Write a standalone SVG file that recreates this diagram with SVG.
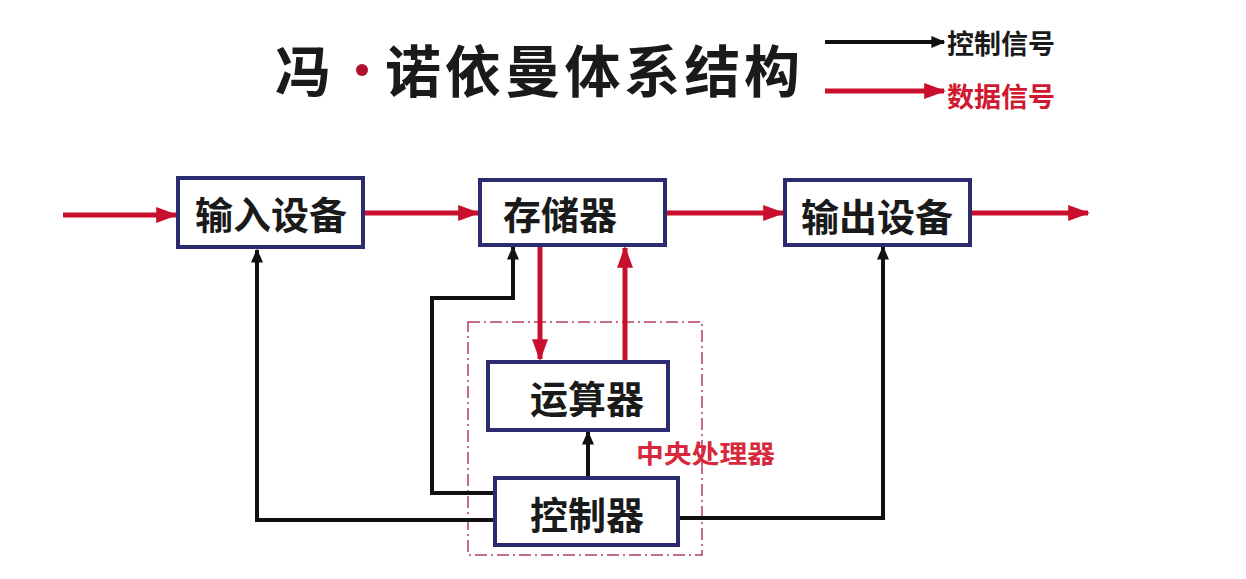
<svg xmlns="http://www.w3.org/2000/svg" width="1246" height="579" viewBox="0 0 1246 579">
<style>
.box{fill:#fff;stroke:#2b2b70;stroke-width:4}
.lbl{font-family:"Noto Sans CJK SC","Noto Sans",sans-serif;font-weight:bold;font-size:38px;fill:#1a1a1a;text-anchor:middle;dominant-baseline:central}
.red{stroke:#c8102e;stroke-width:5;fill:none}
.blk{stroke:#111;stroke-width:4;fill:none}
</style>
<defs>
<marker id="ar" viewBox="0 0 10 10" refX="9" refY="5" markerWidth="4.4" markerHeight="3.2" markerUnits="strokeWidth" orient="auto" preserveAspectRatio="none"><path d="M0,0 L10,5 L0,10 z" fill="#c8102e"/></marker>
<marker id="ab" viewBox="0 0 10 10" refX="9" refY="5" markerWidth="3.5" markerHeight="3" markerUnits="strokeWidth" orient="auto" preserveAspectRatio="none"><path d="M0,0 L10,5 L0,10 z" fill="#111"/></marker>
</defs>
<rect width="1246" height="579" fill="#fff"/>
<g id="title">
<text x="275" y="92" font-family="'Noto Sans CJK SC',sans-serif" font-weight="bold" font-size="56" fill="#1a1a1a">冯</text>
<circle cx="362" cy="70" r="6" fill="#b0102a"/>
<text x="385" y="92" font-family="'Noto Sans CJK SC',sans-serif" font-weight="bold" font-size="56" fill="#1a1a1a" textLength="415" lengthAdjust="spacing">诺依曼体系结构</text>
</g>
<g id="legend">
<line class="blk" x1="825" y1="42" x2="944" y2="42" stroke-width="7" marker-end="url(#ab)"/>
<text x="947" y="42" font-family="'Noto Sans CJK SC',sans-serif" font-weight="bold" font-size="27" fill="#1a1a1a" dominant-baseline="central">控制信号</text>
<line class="red" x1="825" y1="91" x2="944" y2="91" stroke-width="6" marker-end="url(#ar)"/>
<text x="947" y="95" font-family="'Noto Sans CJK SC',sans-serif" font-weight="bold" font-size="27" fill="#d01830" dominant-baseline="central">数据信号</text>
</g>
<g id="cpu">
<rect x="468" y="322" width="234" height="233" fill="none" stroke="#b04060" stroke-width="1.5" stroke-dasharray="12,4,2,4"/>
<text x="636" y="452" font-family="'Noto Sans CJK SC',sans-serif" font-weight="bold" font-size="25" fill="#d8283c" dominant-baseline="central" textLength="139" lengthAdjust="spacingAndGlyphs">中央处理器</text>
</g>
<g id="connectors">
<line class="red" x1="63" y1="215" x2="176" y2="215" marker-end="url(#ar)"/>
<line class="red" x1="365" y1="213" x2="478" y2="213" marker-end="url(#ar)"/>
<line class="red" x1="667" y1="213" x2="783" y2="213" marker-end="url(#ar)"/>
<line class="red" x1="972" y1="213" x2="1088" y2="213" marker-end="url(#ar)"/>
<line class="red" x1="540" y1="247" x2="540" y2="359" marker-end="url(#ar)"/>
<line class="red" x1="625" y1="360" x2="625" y2="248" marker-end="url(#ar)"/>
<polyline class="blk" points="495,520 257,520 257,250" marker-end="url(#ab)"/>
<polyline class="blk" points="495,493 432,493 432,298 513,298 513,247" marker-end="url(#ab)"/>
<line class="blk" x1="588" y1="478" x2="588" y2="432" marker-end="url(#ab)"/>
<polyline class="blk" points="678,518 883,518 883,247" marker-end="url(#ab)"/>
</g>
<g id="input"><rect class="box" x="178" y="178" width="185" height="69"/><text class="lbl" x="271" y="212">输入设备</text></g>
<g id="memory"><rect class="box" x="480" y="180" width="185" height="65"/><text class="lbl" x="560" y="212">存储器</text></g>
<g id="output"><rect class="box" x="785" y="180" width="185" height="65"/><text class="lbl" x="877" y="214">输出设备</text></g>
<g id="alu"><rect class="box" x="488" y="362" width="180" height="68"/><text class="lbl" x="587" y="396" font-weight="normal">运算器</text></g>
<g id="control"><rect class="box" x="495" y="478" width="183" height="67"/><text class="lbl" x="587" y="512">控制器</text></g>
</svg>
